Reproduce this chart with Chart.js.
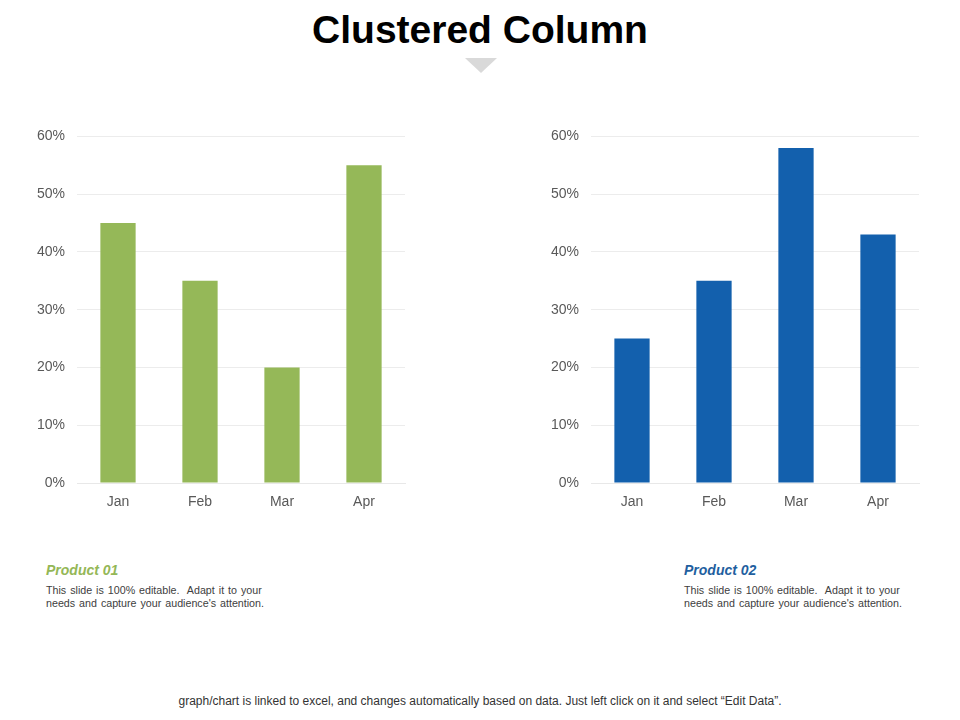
<!DOCTYPE html>
<html>
<head>
<meta charset="utf-8">
<script src="https://cdn.jsdelivr.net/npm/chart.js@4/dist/chart.umd.min.js"></script>
<style>
  html, body { margin:0; padding:0; background:#fff; }
  body { width:960px; height:720px; position:relative; overflow:hidden; font-family:"Liberation Sans", Arial, sans-serif; }
  #title { position:absolute; left:0; width:960px; top:8px; text-align:center; font-weight:bold; font-size:39px; color:#000; }
  #tri { position:absolute; left:465px; top:58px; width:0; height:0; border-left:16px solid transparent; border-right:16px solid transparent; border-top:15px solid #d9d9d9; }
  .cw { position:absolute; top:116px; width:400px; height:400px; }
  .ph { position:absolute; font-weight:bold; font-style:italic; font-size:14px; }
  .pt { position:absolute; font-size:10.7px; word-spacing:1px; line-height:13px; color:#404040; }
  #foot { position:absolute; left:0; width:960px; top:694px; text-align:center; font-size:12px; color:#333; }
</style>
</head>
<body>
<div id="title">Clustered Column</div>
<div id="tri"></div>
<div class="cw" style="left:20px;"><canvas id="c1" width="400" height="400"></canvas></div>
<div class="cw" style="left:535px;"><canvas id="c2" width="400" height="400"></canvas></div>
<div class="ph" style="left:46px;top:562px;color:#94b756;">Product 01</div>
<div class="pt" style="left:46px;top:584px;">This slide is 100% editable.&nbsp; Adapt it to your<br>needs and capture your audience's attention.</div>
<div class="ph" style="left:684px;top:562px;color:#1f5f9f;">Product 02</div>
<div class="pt" style="left:684px;top:584px;">This slide is 100% editable.&nbsp; Adapt it to your<br>needs and capture your audience's attention.</div>
<div id="foot">graph/chart is linked to excel, and changes automatically based on data. Just left click on it and select “Edit Data”.</div>
<script>
const categories = ["Jan", "Feb", "Mar", "Apr"];
const product01 = [45, 35, 20, 55];
const product02 = [25, 35, 58, 43];
const yTicks = [0, 10, 20, 30, 40, 50, 60];

function makeChart(id, data, color, yWidth, padRight) {
  new Chart(document.getElementById(id), {
    type: 'bar',
    data: {
      labels: categories,
      datasets: [{ data: data, backgroundColor: color, borderWidth: 0, categoryPercentage: 1, barPercentage: 0.43 }]
    },
    options: {
      responsive: false,
      animation: false,
      devicePixelRatio: 1,
      layout: { padding: { top: 13, right: padRight, bottom: 0, left: 0 } },
      plugins: { legend: { display: false }, tooltip: { enabled: false } },
      scales: {
        x: {
          grid: { display: false, drawTicks: false },
          border: { display: true, color: '#e8e8e8', width: 1 },
          ticks: { color: '#595959', font: { family: 'Liberation Sans', size: 14 }, padding: 11 },
          afterFit: (s) => { s.height = 33; }
        },
        y: {
          min: 0, max: 60,
          afterBuildTicks: (s) => { s.ticks = yTicks.map(v => ({ value: v })); },
          grid: { color: '#ececec', drawTicks: false },
          border: { display: false },
          ticks: { color: '#595959', font: { family: 'Liberation Sans', size: 14 }, padding: 12, callback: (v) => v + '%' },
          afterFit: (s) => { s.width = yWidth; }
        }
      }
    }
  });
}
makeChart('c1', product01, '#95b858', 57, 15);
makeChart('c2', product02, '#1360ad', 56, 16);
</script>
</body>
</html>
